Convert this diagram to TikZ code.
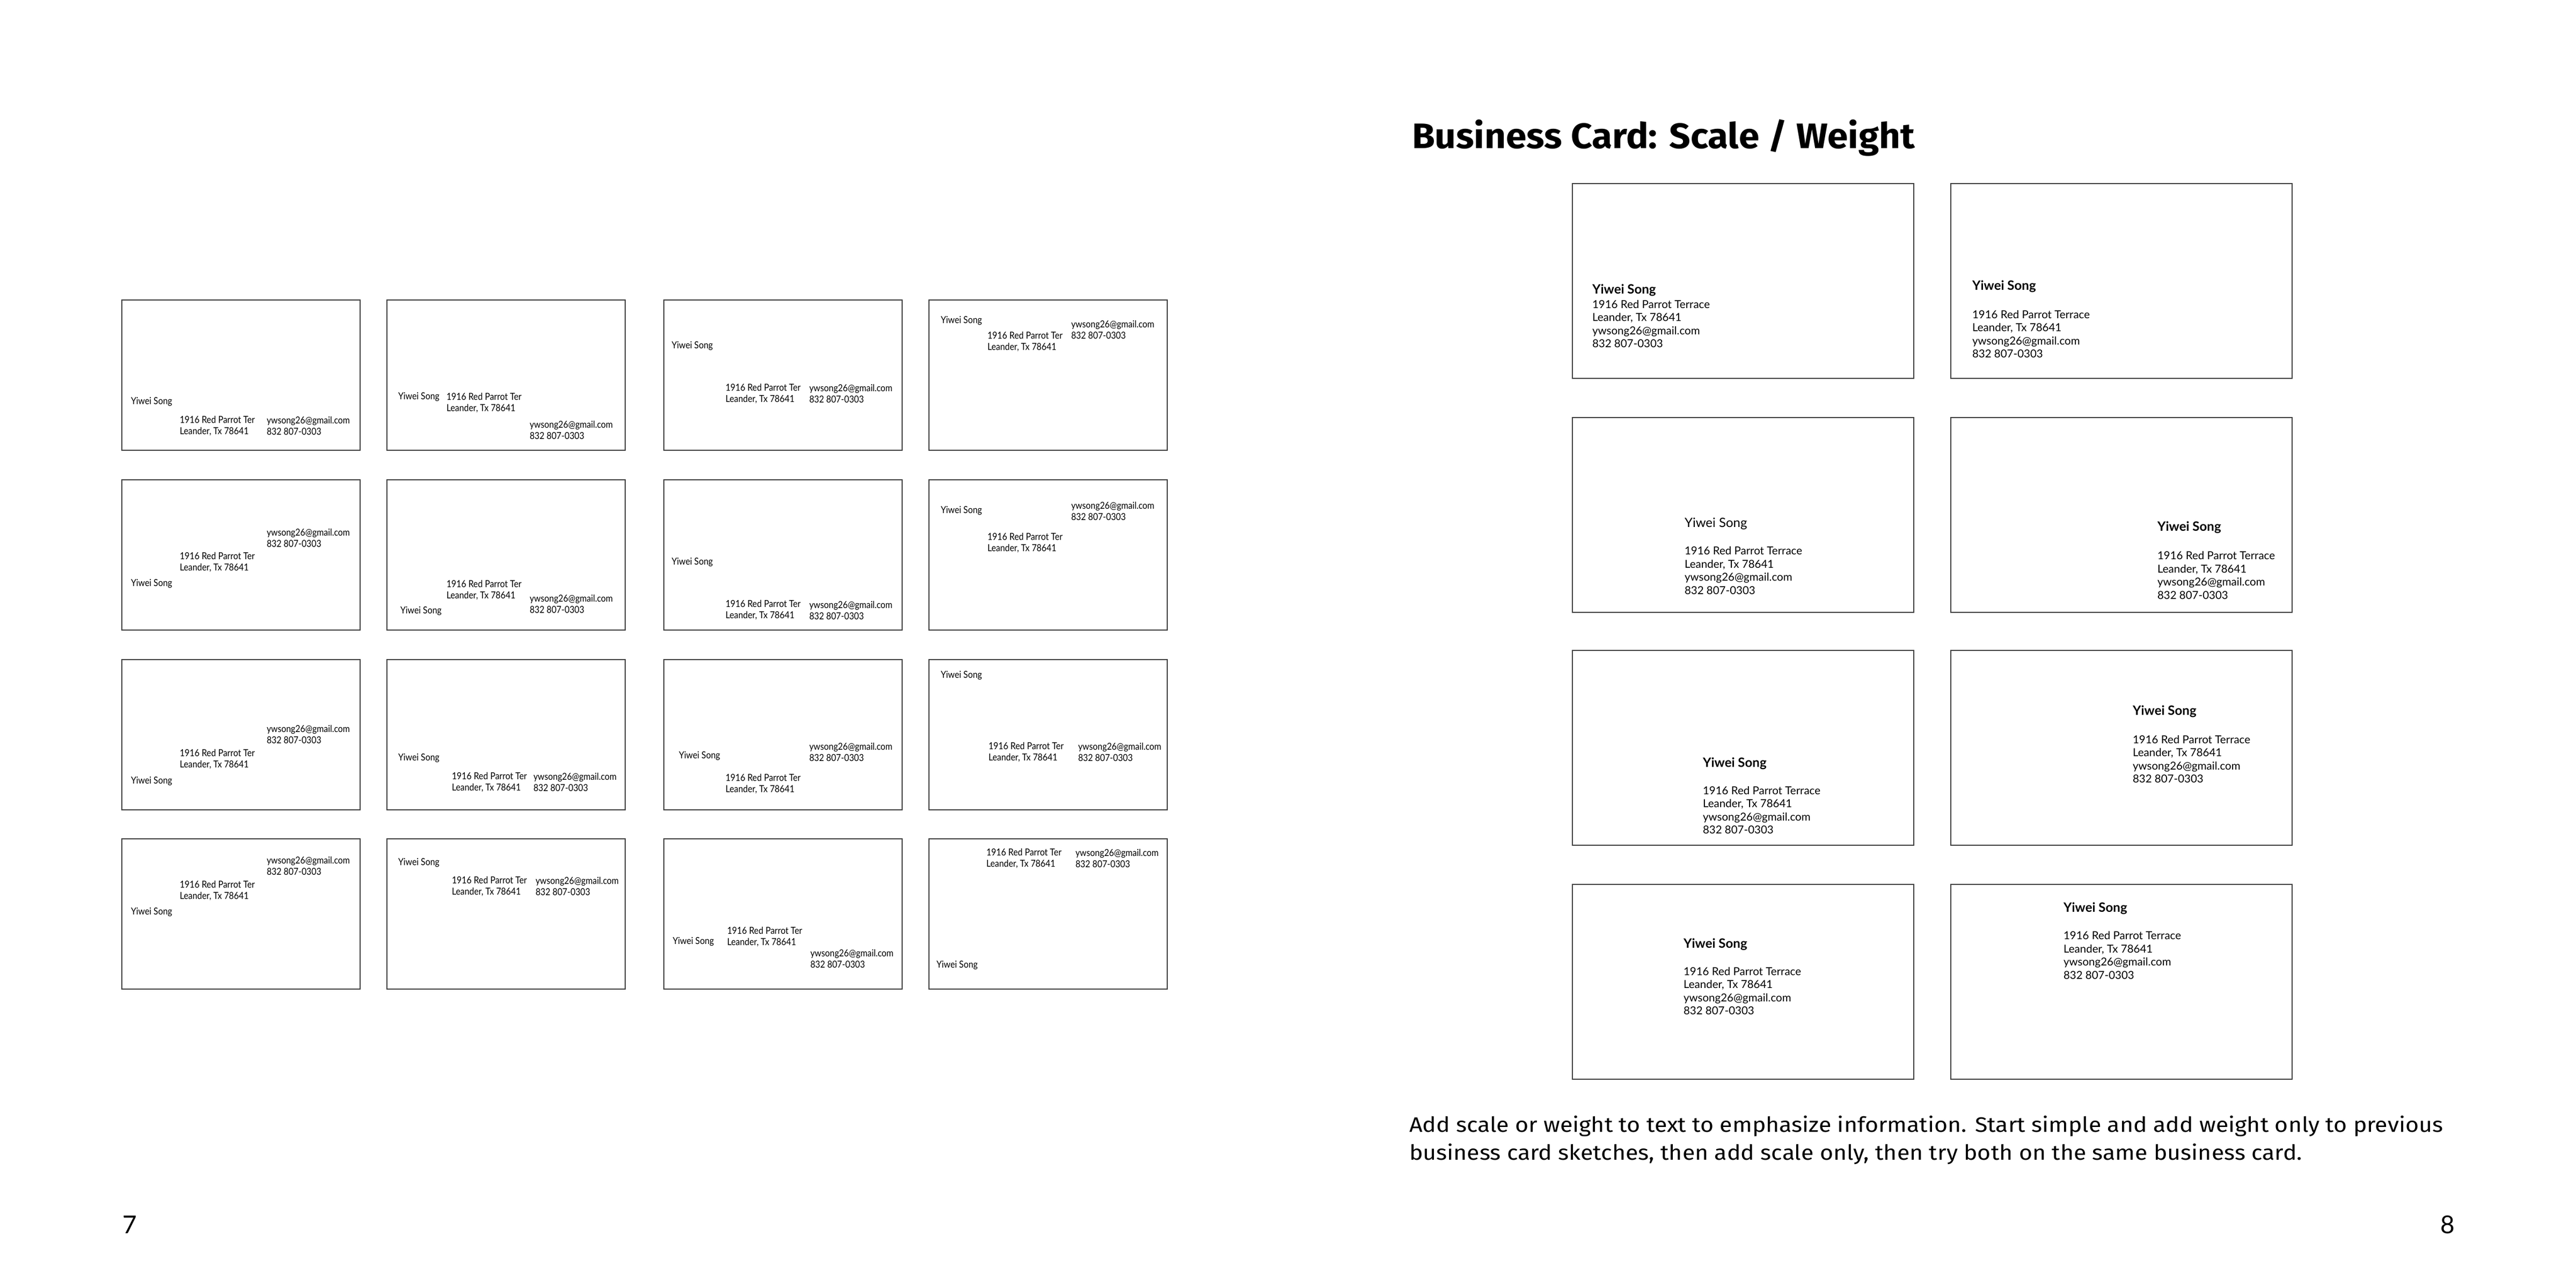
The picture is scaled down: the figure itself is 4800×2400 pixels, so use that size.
\documentclass[tikz,border=0pt]{standalone}
\usepackage{fontspec}
\setmainfont{Lato}
\newfontfamily\headfont[FakeStretch=1.05]{Fira Sans}
\newfontfamily\bodyfont[FakeStretch=1.1]{Fira Sans}
\newfontfamily\sketchfont[FakeStretch=0.88]{Lato}
\usepackage{tikz}

\tikzset{
	card/.style={draw=black!75, line width=0.45pt, minimum width=88.8pt, minimum height=56pt, inner sep=0pt, anchor=north west},
	bigcard/.style={card, minimum width=127.2pt, minimum height=72.6pt},
	sketchtext/.style={anchor=west, inner sep=0pt, align=left, font=\sketchfont\fontsize{3.6}{4.2}\selectfont},
	infotext/.style={anchor=west, inner sep=0pt, align=left, font=\fontsize{4.1}{4.9}\selectfont},
	nametext/.style={anchor=west, inner sep=0pt, font=\fontsize{4.8}{5.5}\selectfont},
	pagetext/.style={anchor=base west, inner sep=0pt, font=\bodyfont\fontsize{7.8}{10}\selectfont}
}

% card name, card corner, offsets of name, address and contact
\newcommand{\sketch}[9]{%
	\node[card] (#1) at (#2,#3) {};
	\node[sketchtext] (#1name) at (#2+#4,#3+#5) {Yiwei Song};
	\node[sketchtext] (#1addr) at (#2+#6,#3+#7+10.5) {1916 Red Parrot Ter\\Leander, Tx 78641};
	\node[sketchtext] (#1mail) at (#2+#8,#3+#9+10.5) {ywsong26@gmail.com\\832 807-0303};
}

% card name, card corner, offset of name, offset of lines, weight of name
\newcommand{\weightcard}[7]{%
	\node[bigcard] (#1) at (#2,#3) {};
	\node[nametext] (#1name) at (#2+#4,#3+#5) {#7Yiwei Song};
	\node[infotext] (#1info) at (#2+#4,#3+#6+36.75) {1916 Red Parrot Terrace\\Leander, Tx 78641\\ywsong26@gmail.com\\832 807-0303};
}

\begin{document}
\begin{tikzpicture}[x=0.2pt, y=-0.2pt]

	\fill[white] (0,0) rectangle (4800,2400);
	\useasboundingbox (0,0) rectangle (4800,2400);

	% page 7: sketches
	\sketch{s11}{226}{558}{17}{191}{108}{225}{270}{225}
	\sketch{s12}{720}{558}{21}{182}{111}{182}{266}{233}
	\sketch{s13}{1236}{558}{14.5}{87}{115}{165}{271}{165}
	\sketch{s14}{1730}{558}{22}{40}{109}{68}{265}{46}

	\sketch{s21}{226}{893}{17}{195}{108}{144}{270}{98.5}
	\sketch{s22}{720}{893}{25}{246}{111}{196}{266}{222}
	\sketch{s23}{1236}{893}{14.5}{155}{115}{233.5}{271}{233.5}
	\sketch{s24}{1730}{893}{22}{58.6}{109}{108}{265}{49}

	\sketch{s31}{226}{1228}{17}{228}{108}{176}{270}{130}
	\sketch{s32}{720}{1228}{21}{185}{121}{219}{273}{219}
	\sketch{s33}{1236}{1228}{28}{181}{115}{222}{271}{163}
	\sketch{s34}{1730}{1228}{22}{31}{111}{163}{278}{163}

	\sketch{s41}{226}{1562}{17}{137.6}{108}{87}{270}{41}
	\sketch{s42}{720}{1562}{21}{46}{121}{79}{277}{79}
	\sketch{s43}{1236}{1562}{16.5}{193}{118}{173}{273}{214}
	\sketch{s44}{1730}{1562}{14}{236.5}{107}{27}{273}{27}

	% page 8: scale and weight
	\node[anchor=base west, inner sep=0pt, font=\headfont\bfseries\fontsize{13.2}{15}\selectfont] (title) at (2630,276) {Business Card: Scale / Weight};

	\weightcard{w1a}{2929}{341}{37}{200}{226}{\bfseries}
	\weightcard{w1b}{3634}{341}{40}{193}{245}{\bfseries}
	\weightcard{w2a}{2929}{777}{209}{199}{249.5}{}
	\weightcard{w2b}{3634}{777}{385}{206}{258.5}{\bfseries}
	\weightcard{w3a}{2929}{1211}{243}{211.6}{262}{\bfseries}
	\weightcard{w3b}{3634}{1211}{339}{115}{167}{\bfseries}
	\weightcard{w4a}{2929}{1647}{207}{113}{163}{\bfseries}
	\weightcard{w4b}{3634}{1647}{210}{46}{96.5}{\bfseries}

	\node[pagetext] (par1) at (2625,2109) {Add scale or weight to text to emphasize information. Start simple and add weight only to previous};
	\node[pagetext] (par2) at (2625,2161) {business card sketches, then add scale only, then try both on the same business card.};

	\node[anchor=base west, inner sep=0pt, font=\fontsize{9.2}{11}\selectfont] (page7) at (227,2298) {7};
	\node[anchor=base west, inner sep=0pt, font=\fontsize{9.2}{11}\selectfont] (page8) at (4546,2298) {8};

\end{tikzpicture}
\end{document}
